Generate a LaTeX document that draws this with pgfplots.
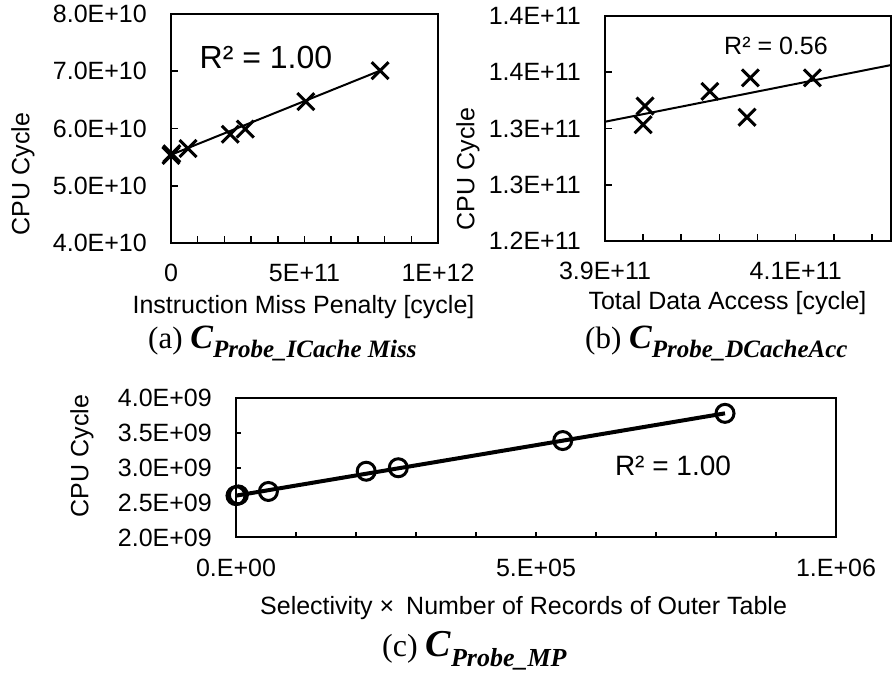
\documentclass[border=0pt]{standalone}
\usepackage{fontspec}
\setmainfont{Liberation Sans}
\newfontfamily\tnr{Liberation Serif}
\usepackage{pgfplots}
\pgfplotsset{compat=1.18}
\pgfplotsset{
  myax/.style={
    scale only axis, anchor=south west,
    axis line style={line width=2pt},
    every tick/.style={line width=1.6pt, black},
    major tick length=7pt, minor tick length=7pt,
    tick align=inside, xtick pos=bottom, ytick pos=left,
    scaled ticks=false, clip=false,
    tick label style={font=\fontsize{25}{30}\selectfont, inner sep=0pt},
    yticklabel style={anchor=east, xshift=-24pt},
    xticklabel style={anchor=base, yshift=-39pt},
  }
}
\begin{document}
\begin{tikzpicture}
\path[use as bounding box] (0pt,0pt) rectangle (892pt,675pt);

% ---------- (a) ----------
\begin{axis}[myax, at={(171pt,432pt)}, width=267pt, height=229pt,
  xmin=0, xmax=1e12, ymin=4e10, ymax=8e10,
  xtick={0,1e11,2e11,3e11,4e11,5e11,6e11,7e11,8e11,9e11,1e12},
  xticklabels={0,,,,,5E+11,,,,,1E+12},
  ytick={4e10,5e10,6e10,7e10,8e10},
  yticklabels={4.0E+10,5.0E+10,6.0E+10,7.0E+10,8.0E+10}]
\addplot[no marks, line width=2pt] coordinates {(0,5.54e10) (7.83e11,7.01e10)};
\addplot[only marks, mark=x, mark size=12pt, mark options={line width=3pt}] coordinates {
 (0,5.53e10) (3e9,5.56e10) (6.4e10,5.65e10) (2.22e11,5.90e10) (2.78e11,5.99e10) (5.05e11,6.47e10) (7.83e11,7.01e10)};
\end{axis}

% ---------- (b) ----------
\begin{axis}[myax, at={(605pt,434pt)}, width=286pt, height=225pt,
  xmin=3.9e11, xmax=4.2e11, ymin=1.2e11, ymax=1.4e11,
  xtick={3.9e11,3.94e11,3.98e11,4.02e11,4.06e11,4.1e11,4.14e11,4.18e11},
  xticklabels={3.9E+11,,,,,4.1E+11,,},
  ytick={1.2e11,1.25e11,1.3e11,1.35e11,1.4e11},
  yticklabels={1.2E+11,1.3E+11,1.3E+11,1.4E+11,1.4E+11}]
\addplot[no marks, line width=2pt] coordinates {(3.9e11,1.306e11) (4.2e11,1.3564e11)};
\addplot[only marks, mark=x, mark size=12pt, mark options={line width=3pt}] coordinates {
 (3.942e11,1.320e11) (3.940e11,1.3034e11) (4.010e11,1.333e11) (4.0525e11,1.345e11) (4.049e11,1.310e11) (4.1175e11,1.345e11)};
\end{axis}

% ---------- (c) ----------
\begin{axis}[myax, at={(236pt,137.5pt)}, width=600pt, height=139.5pt,
  major tick length=5pt, minor tick length=5pt,
  xmin=0, xmax=1e6, ymin=2e9, ymax=4e9,
  xtick={0,1e5,2e5,3e5,4e5,5e5,6e5,7e5,8e5,9e5,1e6},
  xticklabels={0.E+00,,,,,5.E+05,,,,,1.E+06},
  ytick={2e9,2.5e9,3e9,3.5e9,4e9},
  yticklabels={2.0E+09,2.5E+09,3.0E+09,3.5E+09,4.0E+09}]
\addplot[no marks, line width=4pt] coordinates {(0,2.6e9) (8.15e5,3.78e9)};
\addplot[only marks, mark=o, mark size=9pt, mark options={line width=3pt, fill=white}] coordinates {
 (0,2.6e9) (4e3,2.61e9) (5.4e4,2.66e9) (2.17e5,2.95e9) (2.705e5,3.0e9) (5.446e5,3.39e9) (8.15e5,3.78e9)};
\end{axis}

% R^2 labels
\node[font=\fontsize{32}{36}\selectfont] at (266pt,618pt) {R² = 1.00};
\node[font=\fontsize{25}{30}\selectfont] at (776pt,629pt) {R² = 0.56};
\node[font=\fontsize{28}{32}\selectfont] at (673pt,209pt) {R² = 1.00};

% axis labels
\node[font=\fontsize{25}{30}\selectfont, rotate=90] at (23pt,501pt) {CPU Cycle};
\node[font=\fontsize{25}{30}\selectfont, rotate=90] at (468pt,506pt) {CPU Cycle};
\node[font=\fontsize{25}{30}\selectfont, rotate=90] at (82pt,219pt) {CPU Cycle};
\node[font=\fontsize{25}{30}\selectfont, anchor=base, inner sep=0pt] at (303.5pt,361pt) {Instruction Miss Penalty [cycle]};
\node[font=\fontsize{25}{30}\selectfont, anchor=base, inner sep=0pt] at (727.5pt,365pt) {Total Data Access [cycle]};
\node[font=\fontsize{25}{30}\selectfont, anchor=base west, inner sep=0pt] at (260pt,60pt) {Selectivity × \hspace{0.2em}Number of Records of Outer Table};

% captions
\node[anchor=base west, inner sep=0pt] at (148pt,326pt) {\tnr\fontsize{31}{31}\selectfont (a) {\bfseries\itshape\fontsize{34}{34}\selectfont C}\raisebox{-9pt}{\bfseries\itshape\fontsize{25}{25}\selectfont Probe\_ICache Miss}};
\node[anchor=base west, inner sep=0pt] at (585pt,326pt) {\tnr\fontsize{31}{31}\selectfont (b) {\bfseries\itshape\fontsize{34}{34}\selectfont C}\raisebox{-9pt}{\bfseries\itshape\fontsize{25}{25}\selectfont Probe\_DCacheAcc}};
\node[anchor=base west, inner sep=0pt] at (382pt,18pt) {\tnr\fontsize{32}{32}\selectfont (c) {\bfseries\itshape\fontsize{38}{38}\selectfont C}\raisebox{-9pt}{\bfseries\itshape\fontsize{26}{26}\selectfont Probe\_MP}};
\end{tikzpicture}
\end{document}
